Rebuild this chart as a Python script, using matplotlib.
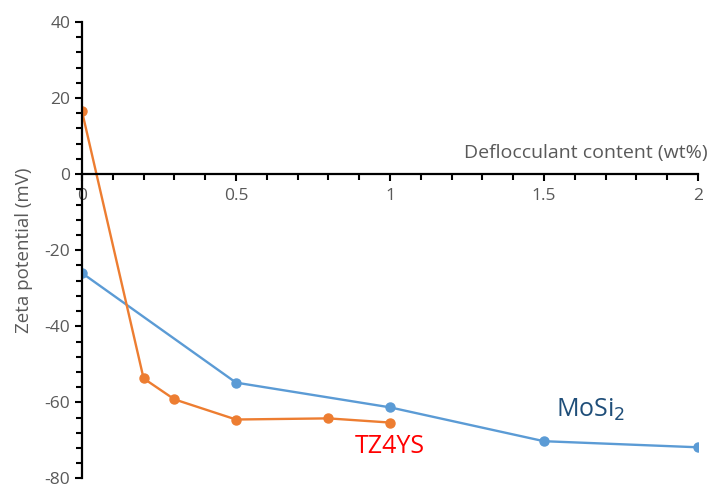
import numpy as np
import matplotlib.pyplot as plt
from matplotlib.ticker import MultipleLocator

plt.rcParams['font.family'] = ['Open Sans', 'DejaVu Sans']
plt.rcParams['axes.unicode_minus'] = False

mosi2_x = [0, 0.5, 1, 1.5, 2]
mosi2_y = [-26.0, -54.8, -61.3, -70.2, -71.8]

tz4ys_x = [0, 0.2, 0.3, 0.5, 0.8, 1]
tz4ys_y = [16.5, -53.7, -59.2, -64.5, -64.2, -65.3]

grey = "#595959"

fig = plt.figure(figsize=(7.1, 4.88), dpi=100)
ax = fig.add_axes([0.1155, 0.0195, 0.8675, 0.9355])

ax.plot(mosi2_x, mosi2_y, color="#5B9BD5", lw=1.7, marker="o", ms=6.5)
ax.plot(tz4ys_x, tz4ys_y, color="#ED7D31", lw=1.7, marker="o", ms=6.5)

ax.set_xlim(0, 2)
ax.set_ylim(-80, 40)
ax.spines["top"].set_visible(False)
ax.spines["right"].set_visible(False)
ax.spines["bottom"].set_position(("data", 0))
for s in ["left", "bottom"]:
    ax.spines[s].set_linewidth(1.6)
    ax.spines[s].set_color("black")

ax.xaxis.set_major_locator(MultipleLocator(0.5))
ax.xaxis.set_minor_locator(MultipleLocator(0.1))
ax.yaxis.set_major_locator(MultipleLocator(20))
ax.yaxis.set_minor_locator(MultipleLocator(4))
ax.set_xticks([0, 0.5, 1, 1.5, 2])
ax.set_xticklabels(["0", "0.5", "1", "1.5", "2"])
ax.tick_params(which="major", length=5, width=1.5, color="black", labelsize=12.5, labelcolor=grey)
ax.tick_params(which="minor", length=4, width=1.5, color="black")
ax.tick_params(axis="x", pad=5)

ax.set_ylabel("Zeta potential (mV)", fontsize=13.5, color=grey, labelpad=8)
ax.text(2.033, 3.3, "Deflocculant content (wt%)", fontsize=14, color=grey, ha="right", va="bottom")

ax.text(1.538, -62, "MoSi$_2$", fontsize=18, color="#1F4E79", ha="left", va="center")
ax.text(0.885, -71.5, "TZ4YS", fontsize=18, color="red", ha="left", va="center")

fig.savefig("out.png", dpi=100)
